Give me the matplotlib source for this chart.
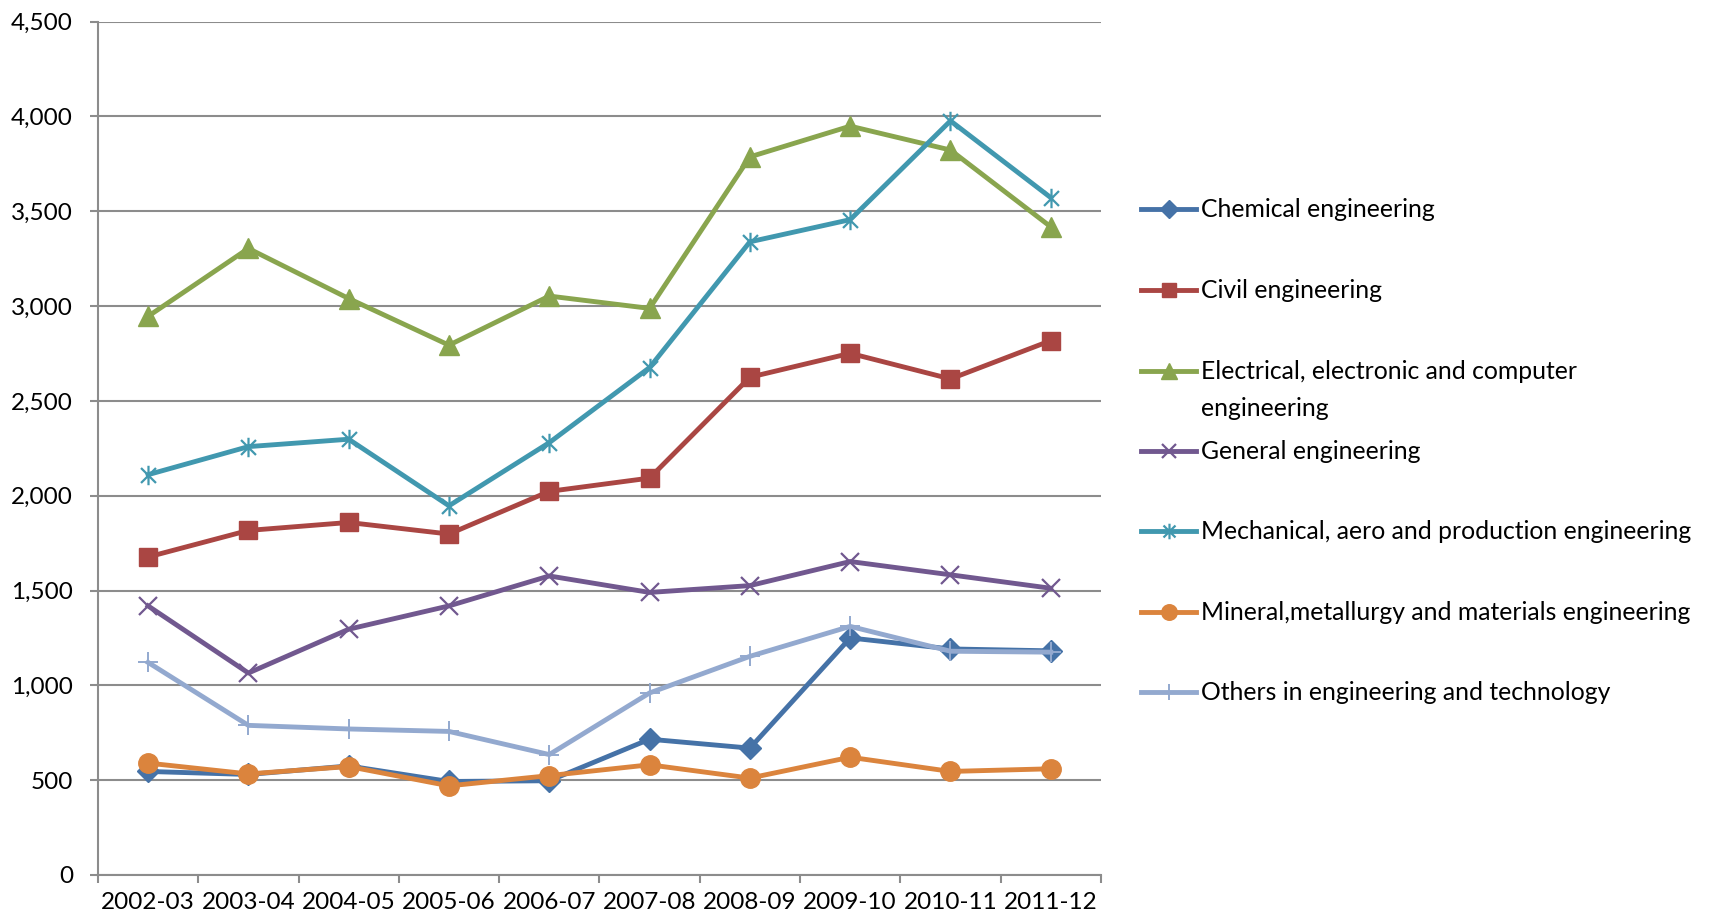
import matplotlib
matplotlib.use("Agg")
import matplotlib.pyplot as plt
import numpy as np
from matplotlib.lines import Line2D
from matplotlib.path import Path
from matplotlib.ticker import FuncFormatter, FixedLocator

plt.rcParams['font.family'] = ['Lato', 'DejaVu Sans']

years = ["2002-03", "2003-04", "2004-05", "2005-06", "2006-07",
         "2007-08", "2008-09", "2009-10", "2010-11", "2011-12"]

chemical = [546, 530, 575, 493, 497, 716, 669, 1250, 1192, 1182]
civil = [1677, 1817, 1859, 1798, 2023, 2093, 2625, 2751, 2616, 2818]
electrical = [2946, 3304, 3040, 2794, 3053, 2988, 3787, 3949, 3823, 3418]
general = [1419, 1065, 1296, 1419, 1577, 1490, 1526, 1653, 1583, 1512]
mechanical = [2111, 2259, 2298, 1947, 2280, 2676, 3339, 3456, 3977, 3572]
mineral = [590, 533, 572, 470, 524, 581, 511, 621, 546, 560]
others = [1121, 789, 770, 757, 635, 960, 1153, 1311, 1180, 1175]

labels = ["Chemical engineering",
          "Civil engineering",
          "Electrical, electronic and computer\nengineering",
          "General engineering",
          "Mechanical, aero and production engineering",
          "Mineral,metallurgy and materials engineering",
          "Others in engineering and technology"]

# Excel-style star: an x with a vertical bar through it
star = Path([(-1, -1), (1, 1), (-1, 1), (1, -1), (0, -1.3), (0, 1.3)],
            [Path.MOVETO, Path.LINETO] * 3)

styles = [
    dict(color="#4572A7", marker="D", ms=11),
    dict(color="#AA4643", marker="s", ms=13),
    dict(color="#89A54E", marker="^", ms=14),
    dict(color="#71588F", marker="x", ms=13, mew=1.6),
    dict(color="#4198AF", marker=star, ms=14, mew=1.6),
    dict(color="#DB843D", marker="o", ms=14),
    dict(color="#93A9CF", marker="+", ms=15, mew=1.4),
]

series = [chemical, civil, electrical, general, mechanical, mineral, others]


def draw():
    fig = plt.figure(figsize=(17.09, 9.22), dpi=100)
    ax = fig.add_axes([0.0573, 0.051, 0.5869, 0.9255])

    x = np.arange(len(years))
    for vals, st in zip(series, styles):
        ax.plot(x, vals, color=st["color"], lw=3.5, marker=st["marker"],
                ms=st["ms"], mew=st.get("mew", 1), mec=st["color"],
                mfc=st["color"], solid_joinstyle="round", zorder=3)

    ax.set_xlim(-0.5, len(years) - 0.5)
    ax.set_ylim(0, 4500)
    ax.set_yticks(np.arange(0, 4501, 500))
    ax.yaxis.set_major_formatter(FuncFormatter(lambda v, p: f"{int(v):,}"))
    ax.set_xticks(x)
    ax.set_xticklabels(years)
    ax.xaxis.set_minor_locator(FixedLocator(np.arange(-0.5, len(years), 1.0)))

    ax.grid(axis="y", color="#8c8c8c", lw=1.5, zorder=0)
    ax.set_axisbelow(True)
    for s in ["top", "right"]:
        ax.spines[s].set_visible(False)
    for s in ["left", "bottom"]:
        ax.spines[s].set_color("#8c8c8c")
        ax.spines[s].set_linewidth(1.5)

    ax.tick_params(axis="y", length=6, width=1.5, color="#8c8c8c",
                   labelsize=17.5, pad=12)
    ax.tick_params(axis="x", which="major", length=0, labelsize=17.5, pad=12)
    ax.tick_params(axis="x", which="minor", length=6, width=1.5,
                   color="#8c8c8c")

    # legend drawn by hand so the wrapped entry keeps Excel's spacing
    W, H = 1709.0, 922.0
    ys = [209, 290, 371, 451, 531, 612, 692]
    for lab, st, yp in zip(labels, styles, ys):
        yf = 1 - yp / H
        fig.add_artist(Line2D([1141 / W, 1196 / W], [yf, yf],
                              transform=fig.transFigure, color=st["color"],
                              lw=3.5))
        fig.add_artist(Line2D([1168.5 / W], [yf], transform=fig.transFigure,
                              color=st["color"], marker=st["marker"],
                              ms=st["ms"] * 0.8, mew=st.get("mew", 1),
                              mfc=st["color"], mec=st["color"], lw=0))
        fig.text(1201 / W, yf + 11 / H, lab, fontsize=17.8, va="top",
                 ha="left", linespacing=1.75)

    fig.savefig("out.png", dpi=100)


if __name__ == '__main__':
    draw()
